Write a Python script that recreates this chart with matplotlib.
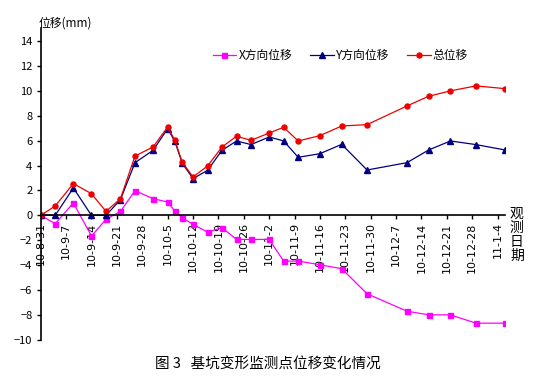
import numpy as np
import pandas as pd
import matplotlib
matplotlib.use("Agg")
import matplotlib.pyplot as plt

plt.rcParams['font.family'] = ['Noto Sans CJK SC', 'DejaVu Sans']

# observation dates and displacements (mm)
obs_dates = ['2010-08-31', '2010-09-04', '2010-09-09', '2010-09-14', '2010-09-18',
             '2010-09-22', '2010-09-26', '2010-10-01', '2010-10-05', '2010-10-07',
             '2010-10-09', '2010-10-12', '2010-10-16', '2010-10-20', '2010-10-24',
             '2010-10-28', '2010-11-02', '2010-11-06', '2010-11-10', '2010-11-16',
             '2010-11-22', '2010-11-29', '2010-12-10', '2010-12-16', '2010-12-22',
             '2010-12-29', '2011-01-06']
x_disp = [0, -0.67, 1.0, -1.66, -0.32, 0.32, 1.98, 1.34, 1.07, 0.35,
          -0.19, -0.72, -1.34, -0.99, -1.93, -1.93, -1.93, -3.67, -3.67, -3.96,
          -4.28, -6.29, -7.69, -7.98, -7.98, -8.65, -8.65]
y_disp = [0, 0, 2.2, 0, 0, 1.26, 4.23, 5.22, 6.96, 5.94,
          4.2, 2.95, 3.61, 5.22, 5.97, 5.68, 6.29, 5.97, 4.66, 4.95,
          5.7, 3.64, 4.23, 5.25, 5.97, 5.68, 5.25]
total_disp = [0, 0.75, 2.55, 1.74, 0.32, 1.34, 4.76, 5.49, 7.09, 6.02,
              4.28, 3.08, 3.96, 5.49, 6.35, 6.02, 6.61, 7.07, 5.97, 6.4,
              7.17, 7.28, 8.78, 9.56, 9.99, 10.39, 10.17]

tick_dates = pd.date_range('2010-08-31', periods=19, freq='7D')
tick_labels = ['10-8-31', '10-9-7', '10-9-14', '10-9-21', '10-9-28', '10-10-5',
               '10-10-12', '10-10-19', '10-10-26', '10-11-2', '10-11-9', '10-11-16',
               '10-11-23', '10-11-30', '10-12-7', '10-12-14', '10-12-21', '10-12-28',
               '11-1-4']

dates = pd.to_datetime(obs_dates)

fig = plt.figure(figsize=(5.47, 3.79), dpi=100)
ax = fig.add_axes([0.0744, 0.1029, 0.8486, 0.8221])

ax.plot(dates, x_disp, color='#ff00ff', lw=0.9, marker='s', ms=3.6,
        label='X方向位移')
ax.plot(dates, y_disp, color='#000080', lw=0.9, marker='^', ms=4.2,
        label='Y方向位移')
ax.plot(dates, total_disp, color='#ee0000', lw=0.9, marker='o', ms=3.6,
        label='总位移')

ax.set_xlim(dates[0], dates[-1])
ax.set_ylim(-10, 15)
ax.set_yticks(np.arange(-10, 15, 2))
ax.set_xticks(tick_dates)
ax.set_xticklabels(tick_labels)

ax.spines['top'].set_visible(False)
ax.spines['right'].set_visible(False)
ax.spines['bottom'].set_position(('data', 0))
ax.spines['bottom'].set_linewidth(1.2)
ax.spines['left'].set_linewidth(1.2)
ax.tick_params(axis='x', direction='out', length=3, width=1, pad=2,
               labelrotation=90, labelsize=8)
ax.tick_params(axis='y', direction='out', length=3, width=1, pad=3, labelsize=8)
for lbl in ax.get_xticklabels():
    lbl.set_family('DejaVu Sans')

fig.text(0.071, 0.94, '位移(mm)', fontsize=8.5, ha='left', va='center')
fig.text(0.945, 0.38, '观\n测\n日\n期', fontsize=10, ha='center', va='center',
         linespacing=1.0)
fig.text(0.49, 0.037, '图 3   基坑变形监测点位移变化情况', fontsize=10.5,
         ha='center', va='center')

ax.legend(loc='upper left', bbox_to_anchor=(0.36, 0.95), ncol=3, frameon=False,
          fontsize=8.5, handlelength=2.0, handletextpad=0.2, columnspacing=1.5,
          borderaxespad=0)

fig.savefig('out.png', dpi=100)
